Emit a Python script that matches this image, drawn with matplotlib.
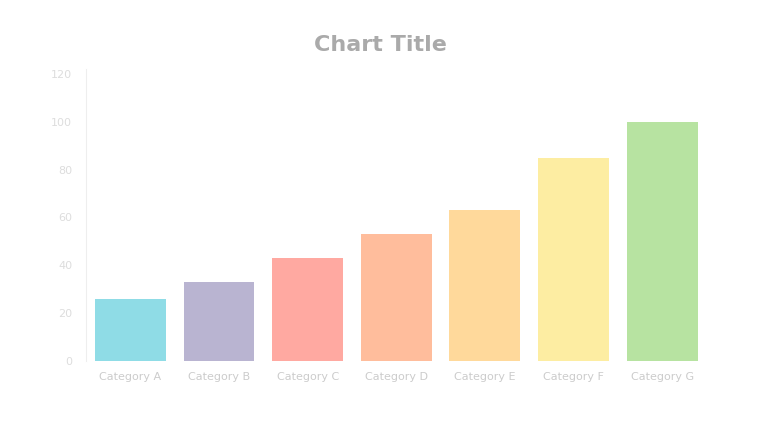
import matplotlib
matplotlib.use("Agg")
import matplotlib.pyplot as plt

categories = ["Category A", "Category B", "Category C", "Category D", "Category E", "Category F", "Category G"]
values = [26, 33, 43, 53, 63, 85, 100]
colors = ["#8fdce6", "#b9b4d1", "#ffa9a1", "#ffbd9c", "#ffd99b", "#fdeda2", "#b7e3a1"]
title = "Chart Title"

fig = plt.figure(figsize=(7.68, 4.48), dpi=100)
ax = fig.add_axes([0.112, 0.195, 0.808, 0.65])
ax.bar(range(len(categories)), values, width=0.8, color=colors)
ax.set_xlim(-0.5, len(categories) - 0.5)
ax.set_ylim(0, 122)
ax.set_xticks(range(len(categories)))
ax.set_xticklabels(categories, fontsize=8, color="#cccccc")
ax.tick_params(axis="y", labelsize=8, colors="#dddddd", length=0, pad=10)
ax.tick_params(axis="x", length=0, pad=8)
for s in ["top", "right", "bottom"]:
    ax.spines[s].set_visible(False)
ax.spines["left"].set_color("#eeeeee")
fig.text(0.495, 0.9, title, ha="center", va="center", fontsize=16, color="#aaaaaa", fontweight="bold")
fig.savefig("out.png", dpi=100, facecolor="white")
